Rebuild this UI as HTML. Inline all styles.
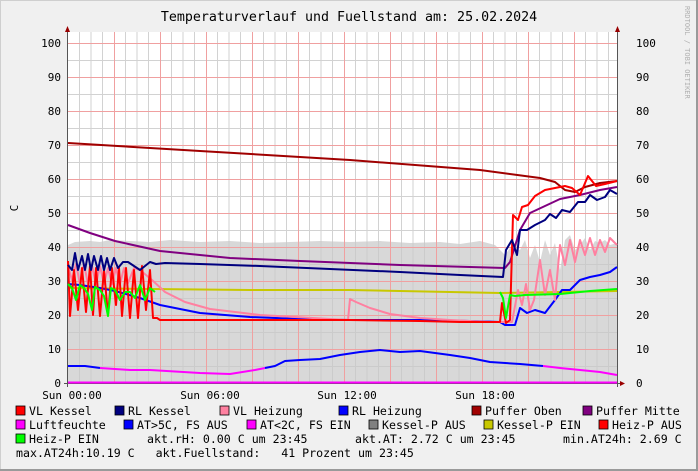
<!DOCTYPE html>
<html><head><meta charset="utf-8"><style>
body{margin:0;background:#f0f0f0}
svg{display:block;font-family:"DejaVu Sans Mono","Liberation Mono",monospace}
text{white-space:pre}
</style></head><body>
<svg width="698" height="471" viewBox="0 0 698 471" xmlns="http://www.w3.org/2000/svg">
<rect x="0" y="0" width="698" height="471" fill="#f0f0f0"/>
<rect x="0.5" y="0.5" width="697" height="470" fill="none" stroke="#cfcfcf"/>
<rect x="0" y="469" width="698" height="2" fill="#9a9a9a"/>
<rect x="696" y="0" width="2" height="471" fill="#9a9a9a"/>
<text x="349" y="21" font-size="13.3" text-anchor="middle" fill="#000">Temperaturverlauf und Fuellstand am: 25.02.2024</text>
<text transform="translate(685,6) rotate(90)" font-size="7" fill="#b0b0b0">RRDTOOL / TOBI OETIKER</text>
<rect x="68" y="32" width="549" height="351" fill="#fff"/>
<polygon fill="#d8d8d8" points="68,383 68,245 75,242 90,241 100,242 110,240 130,241 150,242 170,240 200,242 230,241 260,243 290,242 320,241 350,242 380,241 410,243 440,242 460,244 480,241 495,245 505,255 510,248 520,250 525,240 530,258 535,245 540,262 545,240 550,255 555,243 560,270 565,240 570,235 575,250 580,245 585,238 590,250 595,241 600,243 605,240 610,245 617,243 617,383"/>
<g stroke="#c8c8c8" stroke-width="1" opacity="0.8">
<path d="M68,366.5H617M68,332.5H617M68,298.5H617M68,264.5H617M68,230.5H617M68,196.5H617M68,162.5H617M68,128.5H617M68,94.5H617M68,60.5H617"/>
<path d="M79.5,32V383M91,32V383M102.5,32V383M125.5,32V383M137,32V383M148.5,32V383M171.5,32V383M183,32V383M194.5,32V383M217.5,32V383M229,32V383M240.5,32V383M263.5,32V383M275,32V383M286.5,32V383M309.5,32V383M321,32V383M332.5,32V383M355.5,32V383M367,32V383M378.5,32V383M401.5,32V383M413,32V383M424.5,32V383M447.5,32V383M459,32V383M470.5,32V383M493.5,32V383M505,32V383M516.5,32V383M539.5,32V383M551,32V383M562.5,32V383M585.5,32V383M597,32V383M608.5,32V383"/>
</g>
<g stroke="#f0a0a0" stroke-width="1">
<path d="M68,349.5H617M68,315.5H617M68,281.5H617M68,247.5H617M68,213.5H617M68,179.5H617M68,145.5H617M68,111.5H617M68,77.5H617M68,43.5H617"/>
<path d="M114.5,32V383M160.5,32V383M206.5,32V383M252.5,32V383M298.5,32V383M344.5,32V383M390.5,32V383M436.5,32V383M482.5,32V383M528.5,32V383M574.5,32V383"/>
</g>
<path d="M67.5,30V387M64,383.5H620" stroke="#555" stroke-width="1"/>
<path d="M617.5,30V387" stroke="#555"/>
<polygon points="65,32 70,32 67.5,26" fill="#900"/>
<polygon points="615,32 620,32 617.5,26" fill="#900"/>
<polygon points="620,381 620,386 625,383.5" fill="#900"/>
<g font-size="11" fill="#000" text-anchor="end">
<text x="61" y="387">0</text><text x="61" y="353">10</text><text x="61" y="319">20</text><text x="61" y="285">30</text><text x="61" y="251">40</text><text x="61" y="217">50</text><text x="61" y="183">60</text><text x="61" y="149">70</text><text x="61" y="115">80</text><text x="61" y="81">90</text><text x="61" y="47">100</text>
</g>
<g font-size="11" fill="#000">
<text x="636" y="387">0</text><text x="636" y="353">10</text><text x="636" y="319">20</text><text x="636" y="285">30</text><text x="636" y="251">40</text><text x="636" y="217">50</text><text x="636" y="183">60</text><text x="636" y="149">70</text><text x="636" y="115">80</text><text x="636" y="81">90</text><text x="636" y="47">100</text>
</g>
<text transform="translate(18,208) rotate(-90)" font-size="11" text-anchor="middle">C</text>
<g font-size="11" text-anchor="middle">
<text x="72" y="399">Sun 00:00</text><text x="210" y="399">Sun 06:00</text><text x="347" y="399">Sun 12:00</text><text x="485" y="399">Sun 18:00</text>
</g>
<g fill="none" stroke-width="2" stroke-linejoin="round">
<polyline stroke="#c8c800" points="68,288 150,289 250,290 350,290 450,292 500,293 560,292 617,291"/>
<polyline stroke="#a00000" points="68,143 200,151 350,160 480,170 540,178 555,182 565,190 575,192 585,187 600,183 617,181"/>
<polyline stroke="#800080" points="68,225 90,233 115,241 160,251 230,258 300,261 400,265 505,268 510,262 520,230 530,213 545,206 560,199 580,195 600,190 617,187"/>
<polyline stroke="#0000ff" points="68,284 80,285 100,288 115,291 140,298 160,305 200,313 250,317 300,319 350,320 420,320 470,321 500,322 505,325 515,325 520,308 527,313 535,310 545,313 555,300 562,290 570,290 580,280 590,277 600,275 610,272 617,267"/>
<polyline stroke="#ff80a0" points="68,266 72,280 76,264 80,284 84,264 88,284 92,266 96,284 100,266 104,284 108,268 112,284 116,268 120,284 124,268 128,283 134,268 140,270 152,280 165,292 185,302 210,309 260,315 330,319 348,320 350,299 356,302 370,308 390,314 420,318 450,320 490,322 512,322 518,290 522,305 526,284 530,310 534,300 540,260 545,295 550,270 555,300 560,245 565,265 570,240 575,262 580,240 585,255 590,238 595,255 600,240 605,252 610,238 617,245"/>
<polyline stroke="#ff0000" points="68,261 70,316 74,270 78,310 82,268 86,312 90,266 93,315 96,268 100,316 104,270 108,315 112,268 116,305 119,268 122,316 126,268 130,318 134,270 138,318 142,266 146,310 150,270 153,318 157,318 160,320 200,320 260,320 350,320 420,321 460,322 500,322 502,303 506,323 510,320 513,215 518,220 522,207 528,205 535,196 545,190 555,188 565,186 572,188 580,195 588,176 596,186 605,184 617,181"/>
<polyline stroke="#00007f" points="68,265 72,270 75,253 78,270 82,256 85,270 88,254 91,270 94,256 98,270 101,256 104,270 107,258 110,270 114,258 118,268 123,262 128,262 140,270 150,262 156,264 165,263 200,264 260,266 330,269 400,272 460,275 503,277 506,250 512,240 517,255 520,230 527,230 535,225 545,220 550,214 556,218 562,210 570,212 578,202 585,202 590,195 597,200 605,197 610,190 617,194"/>
<polyline stroke="#00ff00" points="68,284 72,288 76,300 80,285 84,288 88,294 92,310 95,287 100,290 104,296 108,316 111,288 115,290 120,300 125,292 130,292 135,298 140,285 145,300 150,288 155,292"/>
<polyline stroke="#00ff00" points="500,292 503,298 506,318 510,295 515,296 525,295 560,294 590,291 617,289"/>
<polyline stroke="#0000ff" points="68,366 85,366 100,368"/>
<polyline stroke="#ff00ff" points="100,368 130,370 150,370 200,373 230,374 255,370 265,368"/>
<polyline stroke="#0000ff" points="265,368 275,366 285,361 300,360 320,359 340,355 360,352 380,350 400,352 420,351 450,355 470,358 490,362 520,364 543,366"/>
<polyline stroke="#ff00ff" points="543,366 560,368 580,370 600,372 617,375"/>
<polyline stroke="#ff00ff" points="68,382.5 617,382.5"/>
</g>
<g font-size="11.6" fill="#000">
<rect x="16" y="406" width="9" height="9" fill="#ff0000" stroke="#000" stroke-width="0.8"/><text x="29" y="415">VL Kessel</text>
<rect x="115" y="406" width="9" height="9" fill="#00007f" stroke="#000" stroke-width="0.8"/><text x="128" y="415">RL Kessel</text>
<rect x="220" y="406" width="9" height="9" fill="#ff80a0" stroke="#000" stroke-width="0.8"/><text x="233" y="415">VL Heizung</text>
<rect x="339" y="406" width="9" height="9" fill="#0000ff" stroke="#000" stroke-width="0.8"/><text x="352" y="415">RL Heizung</text>
<rect x="472" y="406" width="9" height="9" fill="#a00000" stroke="#000" stroke-width="0.8"/><text x="485" y="415">Puffer Oben</text>
<rect x="583" y="406" width="9" height="9" fill="#800080" stroke="#000" stroke-width="0.8"/><text x="596" y="415">Puffer Mitte</text>
<rect x="16" y="420" width="9" height="9" fill="#ff00ff" stroke="#000" stroke-width="0.8"/><text x="29" y="429">Luftfeuchte</text>
<rect x="124" y="420" width="9" height="9" fill="#0000ff" stroke="#000" stroke-width="0.8"/><text x="137" y="429">AT&gt;5C, FS AUS</text>
<rect x="247" y="420" width="9" height="9" fill="#ff00ff" stroke="#000" stroke-width="0.8"/><text x="260" y="429">AT&lt;2C, FS EIN</text>
<rect x="369" y="420" width="9" height="9" fill="#808080" stroke="#000" stroke-width="0.8"/><text x="382" y="429">Kessel-P AUS</text>
<rect x="484" y="420" width="9" height="9" fill="#c8c800" stroke="#000" stroke-width="0.8"/><text x="497" y="429">Kessel-P EIN</text>
<rect x="599" y="420" width="9" height="9" fill="#ff0000" stroke="#000" stroke-width="0.8"/><text x="612" y="429">Heiz-P AUS</text>
<rect x="16" y="434" width="9" height="9" fill="#00ff00" stroke="#000" stroke-width="0.8"/><text x="29" y="443">Heiz-P EIN</text>
<text x="147" y="443">akt.rH: 0.00 C um 23:45</text>
<text x="355" y="443">akt.AT: 2.72 C um 23:45</text>
<text x="563" y="443">min.AT24h: 2.69 C</text>
<text x="16" y="457">max.AT24h:10.19 C   akt.Fuellstand:   41 Prozent um 23:45</text>
</g>
</svg>
</body></html>
